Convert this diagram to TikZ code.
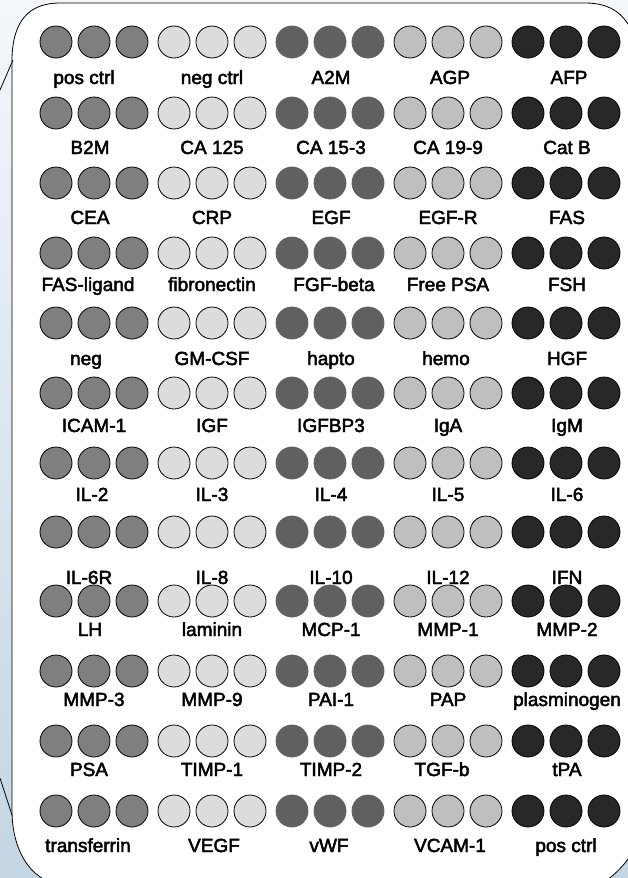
\documentclass[tikz,border=0pt]{standalone}
\usepackage{fontspec}
\setmainfont{Liberation Sans}
\newfontfamily\lblfont[FakeBold=2.5]{Liberation Sans}
\definecolor{gA}{HTML}{7F7F7F}
\definecolor{gB}{HTML}{DCDCDC}
\definecolor{gC}{HTML}{606060}
\definecolor{gD}{HTML}{BFBFBF}
\definecolor{gE}{HTML}{282828}
\definecolor{bgtop}{HTML}{F4F7FA}
\definecolor{bgbot}{HTML}{C4D5E3}
\begin{document}
\begin{tikzpicture}[x=1pt,y=-1pt,
  dot/.style={circle,minimum size=32pt,inner sep=0pt,line width=0.8pt,draw=black},
  dotA/.style={dot,fill=gA},
  dotB/.style={dot,fill=gB},
  dotC/.style={dot,fill=gC,draw=gC},
  dotD/.style={dot,fill=gD},
  dotE/.style={dot,fill=gE},
  lbl/.style={inner sep=0pt,anchor=base,font=\lblfont\fontsize{19}{22}\selectfont,text=black}]
\useasboundingbox (0,0) rectangle (628,878);
\shade[top color=bgtop,bottom color=bgbot] (0,0) rectangle (628,878);
% frame
\path[fill=white,draw=black,line width=0.8pt]
  (12,58) .. controls (13,22) and (28,3) .. (60,3) -- (585,3)
  .. controls (612,3) and (625,15) .. (634,35) -- (634,850)
  .. controls (625,865) and (615,875) .. (600,885) -- (60,885)
  .. controls (30,880) and (12,850) .. (12,810) -- cycle;
\coordinate (tl1) at (0,90);
\coordinate (tl2) at (13,60);
\coordinate (bl1) at (0,778);
\coordinate (bl2) at (12,815);
\draw[line width=0.8pt] (tl1) -- (tl2);
\draw[line width=0.8pt] (bl1) -- (bl2);
% dots
\foreach \r/\y in {1/42,2/113,3/183,4/253,5/323,6/393,7/463,8/532,9/601,10/671,11/741,12/811}{
  \foreach \g/\s in {1/A,2/B,3/C,4/D,5/E}{
    \foreach \j in {0,1,2}{
      \node[dot\s] (d\r-\g-\j) at ({56+118*(\g-1)+38*\j},\y) {};
    }
  }
}
% labels (x = centre, y = baseline)
\node[lbl] (l1-1) at (84,84) {pos ctrl};
\node[lbl] (l1-2) at (212,84) {neg ctrl};
\node[lbl] (l1-3) at (331,84) {A2M};
\node[lbl] (l1-4) at (450,84) {AGP};
\node[lbl] (l1-5) at (569,84) {AFP};
\node[lbl] (l2-1) at (90,154) {B2M};
\node[lbl] (l2-2) at (212,154) {CA 125};
\node[lbl] (l2-3) at (331,154) {CA 15-3};
\node[lbl] (l2-4) at (448,154) {CA 19-9};
\node[lbl] (l2-5) at (567,154) {Cat B};
\node[lbl] (l3-1) at (90,224) {CEA};
\node[lbl] (l3-2) at (212,224) {CRP};
\node[lbl] (l3-3) at (331,224) {EGF};
\node[lbl] (l3-4) at (448,224) {EGF-R};
\node[lbl] (l3-5) at (567,224) {FAS};
\node[lbl] (l4-1) at (88,291) {FAS-ligand};
\node[lbl] (l4-2) at (212,291) {fibronectin};
\node[lbl] (l4-3) at (334,291) {FGF-beta};
\node[lbl] (l4-4) at (448,291) {Free PSA};
\node[lbl] (l4-5) at (567,291) {FSH};
\node[lbl] (l5-1) at (86,365) {neg};
\node[lbl] (l5-2) at (212,365) {GM-CSF};
\node[lbl] (l5-3) at (331,365) {hapto};
\node[lbl] (l5-4) at (446,365) {hemo};
\node[lbl] (l5-5) at (567,365) {HGF};
\node[lbl] (l6-1) at (94,432) {ICAM-1};
\node[lbl] (l6-2) at (212,432) {IGF};
\node[lbl] (l6-3) at (331,432) {IGFBP3};
\node[lbl] (l6-4) at (448,432) {IgA};
\node[lbl] (l6-5) at (567,432) {IgM};
\node[lbl] (l7-1) at (92,501) {IL-2};
\node[lbl] (l7-2) at (212,501) {IL-3};
\node[lbl] (l7-3) at (331,501) {IL-4};
\node[lbl] (l7-4) at (448,501) {IL-5};
\node[lbl] (l7-5) at (567,501) {IL-6};
\node[lbl] (l8-1) at (89,584) {IL-6R};
\node[lbl] (l8-2) at (212,584) {IL-8};
\node[lbl] (l8-3) at (331,584) {IL-10};
\node[lbl] (l8-4) at (448,584) {IL-12};
\node[lbl] (l8-5) at (567,584) {IFN};
\node[lbl] (l9-1) at (90,636) {LH};
\node[lbl] (l9-2) at (212,636) {laminin};
\node[lbl] (l9-3) at (331,636) {MCP-1};
\node[lbl] (l9-4) at (448,636) {MMP-1};
\node[lbl] (l9-5) at (567,636) {MMP-2};
\node[lbl] (l10-1) at (94,706) {MMP-3};
\node[lbl] (l10-2) at (212,706) {MMP-9};
\node[lbl] (l10-3) at (331,706) {PAI-1};
\node[lbl] (l10-4) at (448,706) {PAP};
\node[lbl] (l10-5) at (567,706) {plasminogen};
\node[lbl] (l11-1) at (89,776) {PSA};
\node[lbl] (l11-2) at (212,776) {TIMP-1};
\node[lbl] (l11-3) at (331,776) {TIMP-2};
\node[lbl] (l11-4) at (442,776) {TGF-b};
\node[lbl] (l11-5) at (567,776) {tPA};
\node[lbl] (l12-1) at (88,852) {transferrin};
\node[lbl] (l12-2) at (214,852) {VEGF};
\node[lbl] (l12-3) at (329,852) {vWF};
\node[lbl] (l12-4) at (450,852) {VCAM-1};
\node[lbl] (l12-5) at (566,852) {pos ctrl};
\end{tikzpicture}
\end{document}
